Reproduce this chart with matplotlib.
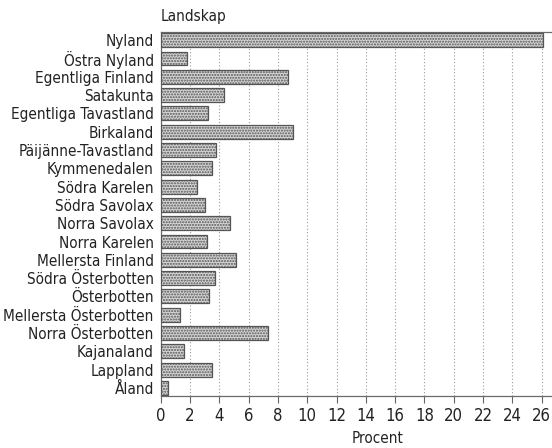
import matplotlib
matplotlib.use("Agg")
import matplotlib.pyplot as plt
from matplotlib import font_manager

regions = ["Nyland", "Östra Nyland", "Egentliga Finland", "Satakunta",
           "Egentliga Tavastland", "Birkaland", "Päijänne-Tavastland",
           "Kymmenedalen", "Södra Karelen", "Södra Savolax", "Norra Savolax",
           "Norra Karelen", "Mellersta Finland", "Södra Österbotten",
           "Österbotten", "Mellersta Österbotten", "Norra Österbotten",
           "Kajanaland", "Lappland", "Åland"]
values = [26.1, 1.8, 8.7, 4.3, 3.25, 9.05, 3.8, 3.5, 2.5, 3.0, 4.75,
          3.15, 5.15, 3.7, 3.3, 1.3, 7.3, 1.6, 3.5, 0.5]
xticks = list(range(0, 27, 2))

fp = None
for pref in ["DejaVuSansCondensed.ttf", "BarlowSemiCondensed-Regular.ttf"]:
    hits = [f for f in font_manager.fontManager.ttflist if f.fname.endswith(pref)]
    if hits:
        fp = hits[0].fname
        break

def props(size):
    if fp is not None:
        return font_manager.FontProperties(fname=fp, size=size)
    return font_manager.FontProperties(family="DejaVu Sans", size=size * 0.85)

plt.rcParams['font.family'] = ["DejaVu Sans"]
plt.rcParams['hatch.color'] = "#a0a0a0"

fig = plt.figure(figsize=(5.52, 4.48), dpi=100)
W, H = 552, 448
left, right, top, bottom = 160.7, 552, 32.5, 396
ax = fig.add_axes([left / W, 1 - bottom / H, (right - left) / W, (bottom - top) / H])

ypos = list(range(len(regions)))
ax.barh(ypos, values, height=0.76, color="#d4d4d4", edgecolor="#555555",
        linewidth=0.9, hatch="......", zorder=3)

ax.set_ylim(len(regions) - 1 + 0.44, -0.42)
ax.set_xlim(0, (right - left) / 14.65)
ax.set_xticks(xticks)
ax.set_xticklabels([str(t) for t in xticks], color="#222222")
ax.set_yticks(ypos)
ax.set_yticklabels(regions, color="#222222")
ax.tick_params(axis="y", length=0, pad=5)
ax.tick_params(axis="x", length=5, width=0.8, color="#666666", pad=3)
for t in ax.get_xticklabels():
    t.set_fontproperties(props(12))
for t in ax.get_yticklabels():
    t.set_fontproperties(props(11))

ax.grid(axis="x", linestyle=(0, (1, 2)), color="#9a9a9a", linewidth=0.8, zorder=0)
for s in ["left", "top", "bottom"]:
    ax.spines[s].set_color("#6a6a6a")
    ax.spines[s].set_linewidth(0.9)
ax.spines["right"].set_visible(False)

ax.set_xlabel("Procent", color="#222222")
ax.xaxis.label.set_fontproperties(props(11))
ax.xaxis.set_label_coords((378 - left) / (right - left), -(438 - bottom) / (bottom - top), transform=ax.transAxes)
ax.xaxis.label.set_va("center")

fig.text(left / W, 1 - 17 / H, "Landskap", color="#222222",
         ha="left", va="center", fontproperties=props(11))

fig.savefig("out.png", dpi=100)
